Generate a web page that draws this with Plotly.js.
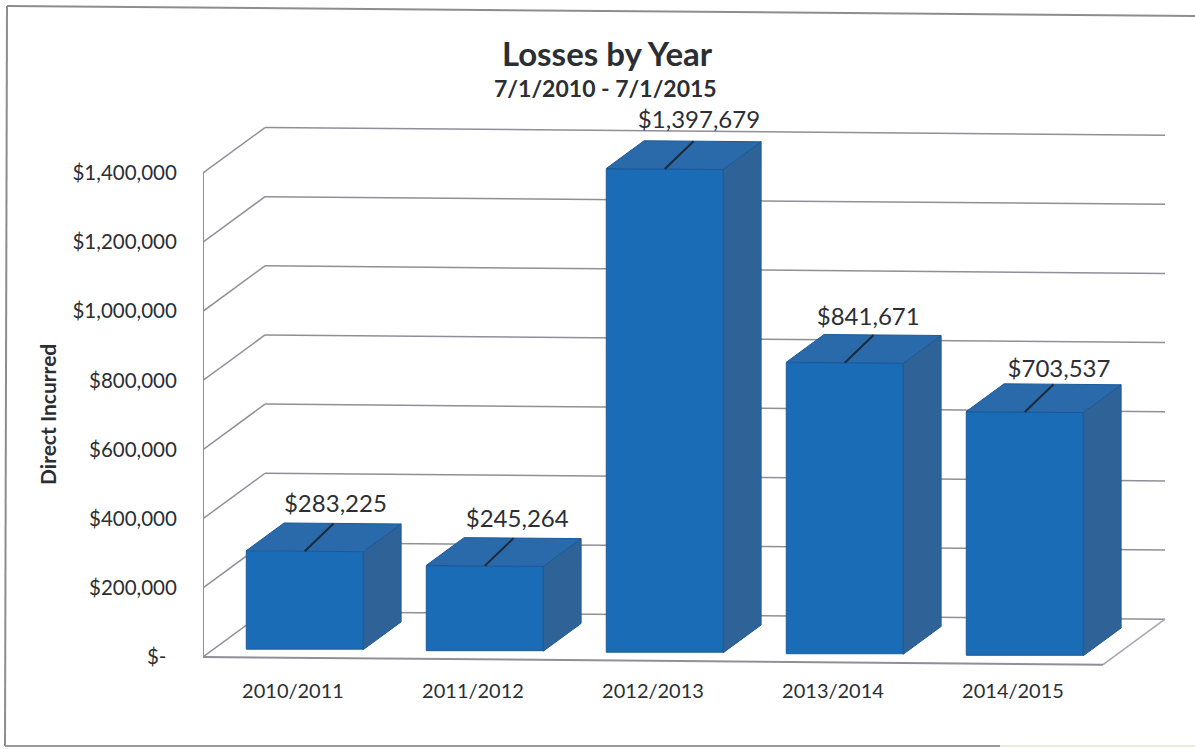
<!DOCTYPE html>
<html>
<head>
<meta charset="utf-8">
<script src="https://cdn.plot.ly/plotly-3.0.1.min.js"></script>
<style>html,body{margin:0;padding:0;background:#ffffff}</style>
</head>
<body>
<div id="chart" style="width:1195px;height:749px"></div>
<script>
// --- data ---
var categories = ['2010/2011','2011/2012','2012/2013','2013/2014','2014/2015'];
var lossValues = [283225, 245264, 1397679, 841671, 703537];
var lossLabels = ['$283,225','$245,264','$1,397,679','$841,671','$703,537'];
var axisValues = [0,200000,400000,600000,800000,1000000,1200000,1400000];
var axisLabels = ['$-\u00a0\u00a0','$200,000','$400,000','$600,000','$800,000','$1,000,000','$1,200,000','$1,400,000'];

// --- layout constants (pixels of the page) ---
var W=1195,H=749, L=203, R=1172, T=100, B=671;
var ZERO_PX=657, DOLLAR_PER_PX=1400000/484, CAT_PX=180, FIRST_CAT_PX=293;
var DEPTH_X=62, DEPTH_Y=46, SKEW=0.0085;
var BAR_FRONT=0.19, BAR_BACK=0.80, BAR_W=0.65;
var labelNudge=[-0.02,-0.01,0,-0.06,0], labelLiftPx=[5,5,7,4,1];
var FRONT='#1b6cb6', SIDE='#2f6398', TOPF='#2a69aa', EDGE='#1a5a99', GRID='#8f8f98';
var FONT='Lato, Carlito, sans-serif', INK='#2b2f33';

var xMin=(L-FIRST_CAT_PX)/CAT_PX, xMax=(R-FIRST_CAT_PX)/CAT_PX;
var yMax=(ZERO_PX-T)*DOLLAR_PER_PX, yMin=(ZERO_PX-B)*DOLLAR_PER_PX;

// oblique projection: category position, value and depth (0 front .. 1 back) to axis units
function px(c,d){return c+d*DEPTH_X/CAT_PX;}
function py(c,v,d){
  var cx=px(c,d);
  return v+d*DEPTH_Y*DOLLAR_PER_PX-(cx-xMin)*CAT_PX*SKEW*DOLLAR_PER_PX;
}
function seg(x0,y0,x1,y1,color,w){
  return {type:'line',layer:'below',xref:'x',yref:'y',x0:x0,y0:y0,x1:x1,y1:y1,line:{color:color,width:w||1.5}};
}
function fx(p){return (p-L)/(R-L);}
function fy(p){return (B-p)/(B-T);}
function frameLine(x0,y0,x1,y1,color){
  return {type:'line',layer:'below',xref:'paper',yref:'paper',x0:fx(x0),y0:fy(y0),x1:fx(x1),y1:fy(y1),
    line:{color:color,width:2}};
}

var n=categories.length, hw=BAR_W/2, shapes=[];
var edgeR=xMin+n;
// back wall and side wall gridlines
axisValues.forEach(function(v){
  shapes.push(seg(px(xMin,0),v,px(xMin,1),py(xMin,v,1),GRID));
  shapes.push(seg(px(xMin,1),py(xMin,v,1),px(edgeR,1),py(edgeR,v,1),GRID));
});
// value axis and floor
shapes.push(seg(xMin,0,xMin,axisValues[axisValues.length-1],GRID,2));
shapes.push(seg(xMin,0,edgeR,py(edgeR,0,0),GRID,2));
shapes.push(seg(edgeR,py(edgeR,0,0),px(edgeR,1),py(edgeR,0,1),'#a6a6ae',1.5));
// scanned page frame: the right side falls off the page
shapes.push(frameLine(7,6,1195,16,'#8d8d8d'));
shapes.push(frameLine(7,6,5,746,'#8d8d8d'));
shapes.push(frameLine(5,746,1000,746,'#9a9a9a'));
shapes.push(frameLine(1000,746,1195,746,'#ecebdc'));

var traces=[];
// front faces
traces.push({type:'bar',x:categories.map(function(c,i){return px(i,BAR_FRONT);}),
  y:lossValues,base:categories.map(function(c,i){return py(i,0,BAR_FRONT);}),
  width:BAR_W,marker:{color:FRONT,line:{color:EDGE,width:1}},hoverinfo:'skip',showlegend:false});

function face(xs,ys,color){
  traces.push({type:'scatter',mode:'lines',x:xs,y:ys,fill:'toself',fillcolor:color,
    line:{color:EDGE,width:1},hoverinfo:'skip',showlegend:false});
}
lossValues.forEach(function(v,i){
  var a=i-hw,b=i+hw,f=BAR_FRONT,k=BAR_BACK;
  // side face
  face([px(b,f),px(b,k),px(b,k),px(b,f),px(b,f)],
       [py(b,0,f),py(b,0,k),py(b,v,k),py(b,v,f),py(b,0,f)],SIDE);
  // top face
  face([px(a,f),px(b,f),px(b,k),px(a,k),px(a,f)],
       [py(a,v,f),py(b,v,f),py(b,v,k),py(a,v,k),py(a,v,f)],TOPF);
  // leader line from the top face to the label
  traces.push({type:'scatter',mode:'lines',
    x:[px(i,BAR_FRONT),px(i-0.05,BAR_BACK)],y:[py(i,v,BAR_FRONT),py(i,v,BAR_BACK)],
    line:{color:'#1c2a38',width:2},hoverinfo:'skip',showlegend:false});
});
// data labels
traces.push({type:'scatter',mode:'text',
  x:lossValues.map(function(v,i){return px(i-0.02+labelNudge[i],BAR_BACK);}),
  y:lossValues.map(function(v,i){return py(i,v,BAR_BACK)+labelLiftPx[i]*DOLLAR_PER_PX;}),
  text:lossLabels,textposition:'top center',cliponaxis:false,
  textfont:{family:FONT,size:24,color:INK},hoverinfo:'skip',showlegend:false});

var layout={
  width:W,height:H,paper_bgcolor:'#ffffff',plot_bgcolor:'rgba(0,0,0,0)',
  margin:{l:L,r:W-R,t:T,b:H-B,pad:0},showlegend:false,barmode:'overlay',
  title:{text:'<b>Losses by Year</b>',x:607/W,xanchor:'center',y:1-54/H,yanchor:'middle',
    font:{family:FONT,size:33,color:INK}},
  annotations:[
    {text:'<b>7/1/2010 - 7/1/2015</b>',xref:'paper',yref:'paper',
     x:fx(605),y:fy(88),xanchor:'center',yanchor:'middle',showarrow:false,
     font:{family:FONT,size:23,color:INK}},
    {text:'<b>Direct Incurred</b>',xref:'paper',yref:'paper',textangle:-90,
     x:fx(47),y:fy(415),xanchor:'center',yanchor:'middle',showarrow:false,
     font:{family:FONT,size:21,color:INK}}
  ],
  xaxis:{range:[xMin,xMax],tickmode:'array',tickvals:categories.map(function(c,i){return i;}),
    ticktext:categories,ticks:'outside',ticklen:2,tickcolor:'rgba(0,0,0,0)',tickangle:0,
    showgrid:false,zeroline:false,showline:false,tickfont:{family:FONT,size:20,color:INK}},
  yaxis:{range:[yMin,yMax],tickmode:'array',tickvals:axisValues,ticktext:axisLabels,
    ticks:'outside',ticklen:21,tickcolor:'rgba(0,0,0,0)',showgrid:false,zeroline:false,showline:false,
    tickfont:{family:FONT,size:20.5,color:INK}},
  shapes:shapes
};
Plotly.newPlot('chart',traces,layout,{displayModeBar:false,staticPlot:true});
</script>
</body>
</html>
